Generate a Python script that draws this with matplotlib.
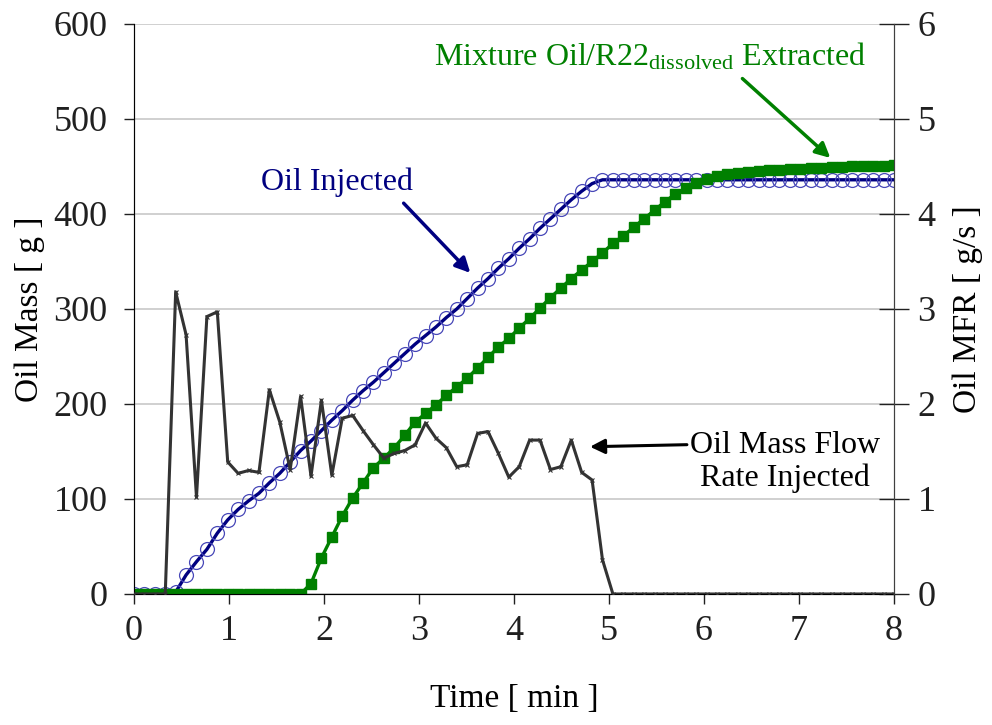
import numpy as np
import matplotlib
matplotlib.use("Agg")
import matplotlib.pyplot as plt

plt.rcParams["font.family"] = ["Liberation Serif", "DejaVu Serif"]
plt.rcParams["mathtext.fontset"] = "custom"
plt.rcParams["mathtext.rm"] = "Liberation Serif"
plt.rcParams["mathtext.it"] = "Liberation Serif:italic"

# logged injection test, one sample every ~6.6 s over 8 min
oil_injected_g = ([0, 0, 0, 0, 2,
                   20, 34, 47, 64, 78, 89, 98, 106, 117, 127, 139, 151, 161, 172, 183, 193, 204, 214, 223,
                   233, 243, 253, 263, 272, 281, 291, 300,
                   311, 322, 332, 343, 353, 364, 374, 385, 395, 405, 415, 424, 432, 436]
                  + [436] * 28)
mixture_extracted_g = ([0] * 17
                       + [11, 38, 60, 82, 101, 117, 133, 143, 154, 167, 181, 190, 199, 209, 218,
                          227, 238, 249, 260, 269, 280, 290, 301,
                          312, 322, 332, 341, 350, 359, 369, 377, 386, 395, 404, 413, 421, 427, 433,
                          437, 440, 442, 443, 444, 445, 446, 446, 447, 447, 448, 448, 449, 449, 450,
                          450, 451, 451, 452])
oil_mfr_gs = ([0.0] * 4
              + [3.18, 2.73, 1.02, 2.92, 2.97, 1.39, 1.27, 1.30, 1.28, 2.15, 1.81, 1.31, 2.08, 1.24,
                 2.04, 1.25, 1.85, 1.88, 1.72, 1.57, 1.43, 1.48, 1.51, 1.57, 1.80, 1.64, 1.54, 1.34,
                 1.36, 1.69, 1.71, 1.48, 1.23, 1.34, 1.62, 1.62, 1.31, 1.34, 1.62, 1.28, 1.20, 0.36]
              + [0.0] * 28)
time_min = np.linspace(0, 8, len(oil_injected_g))

mass_ticks = [0, 100, 200, 300, 400, 500, 600]
mfr_ticks = [0, 1, 2, 3, 4, 5, 6]
time_ticks = [0, 1, 2, 3, 4, 5, 6, 7, 8]

NAVY = "#000080"
GREEN = "#008000"
DARK = "#333333"

fig = plt.figure(figsize=(9.92, 7.25), dpi=100)
ax = fig.add_axes([0.1351, 0.1807, 0.7661, 0.7862])

ax.plot(time_min, oil_injected_g, color=NAVY, lw=2.4, marker="o", ms=10,
        mfc="none", mec="#4848b8", mew=0.9, zorder=3)
ax.plot(time_min, mixture_extracted_g, color=GREEN, lw=2.4, marker="s", ms=7.5,
        mfc=GREEN, mec=GREEN, zorder=4)

ax.set_xlim(0, 8)
ax.set_ylim(0, 600)
ax.set_xticks(time_ticks)
ax.set_yticks(mass_ticks)
ax.yaxis.grid(True, color="#c8c8c8", lw=1.2)
ax.set_axisbelow(True)
ax.spines["top"].set_visible(False)
for s in ("left", "bottom", "right"):
    ax.spines[s].set_color("#404040")
ax.tick_params(axis="both", direction="out", length=7, width=1, labelsize=26, colors="#202020")
ax.tick_params(axis="x", pad=8)
ax.tick_params(axis="y", pad=12)
ax.set_xlabel("Time [ min ]", fontsize=24, labelpad=26)
ax.set_ylabel("Oil Mass [ g ]", fontsize=24, labelpad=6)

ax2 = ax.twinx()
ax2.plot(time_min, oil_mfr_gs, color=DARK, lw=2.2, marker="x", ms=3, mew=0.8, zorder=5)
ax2.set_ylim(0, 6)
ax2.set_yticks(mfr_ticks)
ax2.spines["top"].set_visible(False)
ax2.spines["right"].set_color("#404040")
ax2.tick_params(axis="y", direction="inout", length=22, width=1, labelsize=26, colors="#202020", pad=6)
ax2.set_ylabel("Oil MFR [ g/s ]", fontsize=24, labelpad=12)

# annotations
ax.annotate("Oil Injected", xy=(3.54, 338), xytext=(2.14, 433), color=NAVY,
            fontsize=23, ha="center", va="center",
            arrowprops=dict(arrowstyle="-|>", color=NAVY, lw=2.5, mutation_scale=22,
                            shrinkA=3, shrinkB=0, relpos=(0.9, 0.0)), zorder=6)
ax.annotate("Mixture Oil/R22$_{\\mathrm{dissolved}}$ Extracted", xy=(7.33, 459), xytext=(5.43, 565),
            color=GREEN, fontsize=23, ha="center", va="center",
            arrowprops=dict(arrowstyle="-|>", color=GREEN, lw=2.5, mutation_scale=22,
                            shrinkA=3, shrinkB=0, relpos=(0.7, 0.0)), zorder=6)
ax2.annotate("Oil Mass Flow\nRate Injected", xy=(4.8, 1.55), xytext=(6.85, 1.39),
             color="black", fontsize=23, ha="center", va="center", linespacing=1.15,
             arrowprops=dict(arrowstyle="-|>", color="black", lw=2.2, mutation_scale=22,
                             shrinkA=0, shrinkB=0, relpos=(0.0, 0.78)), zorder=6)

fig.savefig("out.png", dpi=100)
